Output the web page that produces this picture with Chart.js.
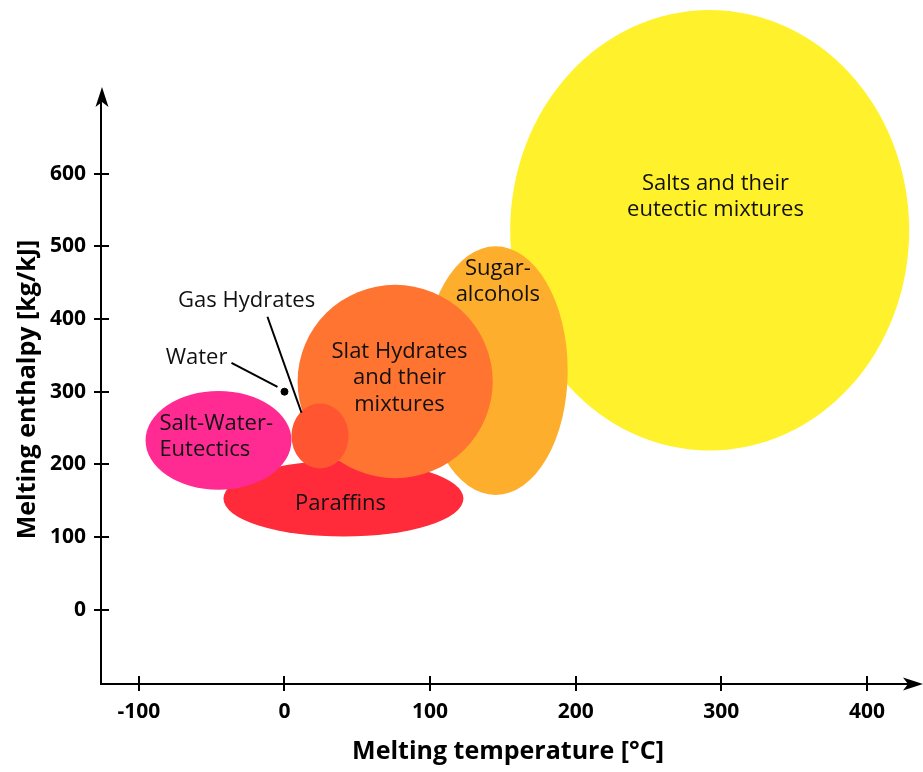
<!DOCTYPE html>
<html lang="en">
<head>
    <meta charset="UTF-8">
    <title>Melting enthalpy vs melting temperature</title>
    <script src="https://cdn.jsdelivr.net/npm/chart.js"></script>
    <style>
        html, body {
            margin: 0;
            padding: 0;
            background: #ffffff;
        }
        #wrap {
            width: 923px;
            height: 772px;
        }
    </style>
</head>
<body>
    <div id="wrap">
        <canvas id="myChart" width="923" height="772"></canvas>
    </div>

    <script>
        // material groups, drawn in this order (later ones on top)
        const groupNames = ['Salts', 'Sugar-alcohols', 'Paraffins', 'Slat Hydrates', 'Salt-Water-Eutectics', 'Gas Hydrates'];
        const centerTemp = [292, 145, 40.5, 76, -45.3, 24.4];
        const centerEnthalpy = [522, 329, 153, 314, 233, 239];
        const spreadTemp = [137, 49.5, 82.4, 67, 50.1, 19.6];
        const spreadEnthalpy = [303, 171, 52.3, 133, 68, 44.7];
        const groupColors = ['#fff22c', '#fdae2d', '#ff2b3b', '#ff7430', '#ff2b93', '#ff5530'];

        // text labels
        const labelText = [
            ['Salts and their', 'eutectic mixtures'],
            ['Sugar-', 'alcohols'],
            ['Paraffins'],
            ['Slat Hydrates', 'and their', 'mixtures'],
            ['Salt-Water-', 'Eutectics'],
            ['Gas Hydrates'],
            ['Water']
        ];
        const labelTemp = [296, 146.5, 38.5, 79, -85.9, -26, -60.4];
        const labelEnthalpy = [568, 451, 146, 319, 238, 425, 346.6];
        const labelAlign = ['center', 'center', 'center', 'center', 'left', 'center', 'center'];

        // water point and leader lines
        const waterPoint = [{ x: 0, y: 300 }];
        const waterLeader = [{ x: -36.4, y: 339.7 }, { x: -4.8, y: 306.7 }];
        const gasLeader = [{ x: -11.7, y: 403 }, { x: 11.7, y: 271 }];

        const xTicks = [-100, 0, 100, 200, 300, 400];
        const yTicks = [0, 100, 200, 300, 400, 500, 600];

        const ellipsePlugin = {
            id: 'ellipses',
            beforeDatasetsDraw(chart) {
                const ctx = chart.ctx;
                const x = chart.scales.x;
                const y = chart.scales.y;
                ctx.save();
                for (let i = 0; i < groupNames.length; i++) {
                    const px = x.getPixelForValue(centerTemp[i]);
                    const py = y.getPixelForValue(centerEnthalpy[i]);
                    const rx = Math.abs(x.getPixelForValue(centerTemp[i] + spreadTemp[i]) - px);
                    const ry = Math.abs(y.getPixelForValue(centerEnthalpy[i] + spreadEnthalpy[i]) - py);
                    ctx.beginPath();
                    ctx.ellipse(px, py, rx, ry, 0, 0, Math.PI * 2);
                    ctx.fillStyle = groupColors[i];
                    ctx.fill();
                }
                ctx.restore();
            },
            afterDatasetsDraw(chart) {
                const ctx = chart.ctx;
                const x = chart.scales.x;
                const y = chart.scales.y;
                const area = chart.chartArea;
                ctx.save();

                // labels
                ctx.font = '22px "Open Sans"';
                ctx.fillStyle = '#111111';
                ctx.textBaseline = 'middle';
                const lh = 26.5;
                for (let i = 0; i < labelText.length; i++) {
                    const lines = labelText[i];
                    const px = x.getPixelForValue(labelTemp[i]);
                    const py = y.getPixelForValue(labelEnthalpy[i]);
                    ctx.textAlign = labelAlign[i];
                    lines.forEach((t, k) => {
                        ctx.fillText(t, px, py + (k - (lines.length - 1) / 2) * lh);
                    });
                }

                // axes with arrows
                ctx.strokeStyle = '#000';
                ctx.fillStyle = '#000';
                ctx.lineWidth = 2;
                ctx.beginPath();
                ctx.moveTo(area.left, area.top - 2);
                ctx.lineTo(area.left, area.bottom);
                ctx.lineTo(area.right - 2, area.bottom);
                ctx.stroke();

                // up arrow
                const ax = area.left + 1;
                const tipY = area.top - 8;
                ctx.beginPath();
                ctx.moveTo(ax, tipY);
                ctx.lineTo(ax + 6.5, tipY + 20);
                ctx.lineTo(ax, tipY + 15);
                ctx.lineTo(ax - 6.5, tipY + 20);
                ctx.closePath();
                ctx.fill();

                // right arrow
                const tipX = area.right + 8;
                const ay = area.bottom;
                ctx.beginPath();
                ctx.moveTo(tipX, ay);
                ctx.lineTo(tipX - 20, ay - 6.5);
                ctx.lineTo(tipX - 15, ay);
                ctx.lineTo(tipX - 20, ay + 6.5);
                ctx.closePath();
                ctx.fill();

                // tick marks crossing the axes
                ctx.lineWidth = 2;
                ctx.beginPath();
                xTicks.forEach(v => {
                    const px = Math.round(x.getPixelForValue(v));
                    ctx.moveTo(px, area.bottom - 8);
                    ctx.lineTo(px, area.bottom + 7);
                });
                yTicks.forEach(v => {
                    const py = Math.round(y.getPixelForValue(v));
                    ctx.moveTo(area.left - 7, py);
                    ctx.lineTo(area.left + 8, py);
                });
                ctx.stroke();
                ctx.restore();
            }
        };

        const ctx = document.getElementById('myChart').getContext('2d');
        const myChart = new Chart(ctx, {
            type: 'scatter',
            data: {
                datasets: [
                    {
                        label: 'Water',
                        data: waterPoint,
                        backgroundColor: '#000',
                        borderColor: '#000',
                        pointRadius: 3.5
                    },
                    {
                        label: 'Water leader',
                        data: waterLeader,
                        showLine: true,
                        borderColor: '#000',
                        borderWidth: 2,
                        pointRadius: 0
                    },
                    {
                        label: 'Gas leader',
                        data: gasLeader,
                        showLine: true,
                        borderColor: '#000',
                        borderWidth: 2,
                        pointRadius: 0
                    }
                ]
            },
            options: {
                responsive: false,
                animation: false,
                events: [],
                layout: {
                    padding: { top: 95, right: 8, left: 0, bottom: 0 }
                },
                plugins: {
                    legend: { display: false },
                    tooltip: { enabled: false }
                },
                scales: {
                    x: {
                        type: 'linear',
                        min: -126,
                        max: 433,
                        grid: { display: false, drawTicks: false },
                        border: { display: false },
                        afterBuildTicks: scale => {
                            scale.ticks = xTicks.map(v => ({ value: v }));
                        },
                        afterFit: scale => {
                            scale.height = 88;
                        },
                        ticks: {
                            padding: 15,
                            color: '#000',
                            font: { family: 'Open Sans', size: 21, weight: 'bold' },
                            maxRotation: 0
                        },
                        title: {
                            display: true,
                            text: 'Melting temperature [°C]',
                            color: '#000',
                            font: { family: 'Open Sans', size: 25, weight: 'bold' },
                            padding: { top: 0, bottom: 5 }
                        }
                    },
                    y: {
                        type: 'linear',
                        min: -102,
                        max: 708,
                        grid: { display: false, drawTicks: false },
                        border: { display: false },
                        afterBuildTicks: scale => {
                            scale.ticks = yTicks.map(v => ({ value: v }));
                        },
                        afterFit: scale => {
                            scale.width = 101;
                        },
                        ticks: {
                            padding: 15,
                            color: '#000',
                            font: { family: 'Open Sans', size: 21, weight: 'bold' }
                        },
                        title: {
                            display: true,
                            text: 'Melting enthalpy [kg/kJ]',
                            color: '#000',
                            font: { family: 'Open Sans', size: 25, weight: 'bold' },
                            padding: { top: 13, bottom: 0 }
                        }
                    }
                }
            },
            plugins: [ellipsePlugin]
        });
    </script>
</body>
</html>
